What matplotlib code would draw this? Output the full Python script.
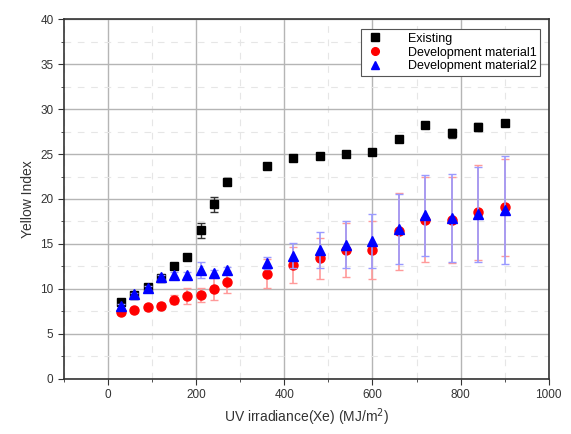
import matplotlib
matplotlib.use("Agg")
import matplotlib.pyplot as plt
from matplotlib.ticker import MultipleLocator

plt.rcParams['font.family'] = ['Liberation Sans', 'DejaVu Sans']

x = [30, 60, 90, 120, 150, 180, 210, 240, 270, 360, 420, 480, 540, 600, 660, 720, 780, 840, 900]
existing = [8.6, 9.3, 10.2, 11.2, 12.6, 13.55, 16.5, 19.4, 21.9, 23.7, 24.6, 24.8, 25.0, 25.2, 26.7, 28.2, 27.3, 28.0, 28.5]
existing_err = [0.3, 0.2, 0.2, 0.2, 0.3, 0.3, 0.8, 0.8, 0.4, 0.3, 0.3, 0.2, 0.2, 0.2, 0.2, 0.3, 0.5, 0.4, 0.3]
dev1 = [7.4, 7.7, 8.0, 8.1, 8.8, 9.2, 9.3, 10.0, 10.8, 11.7, 12.7, 13.4, 14.3, 14.3, 16.4, 17.7, 17.7, 18.5, 19.1]
dev1_err = [0.2, 0.2, 0.2, 0.3, 0.5, 0.9, 0.8, 1.2, 1.2, 1.6, 2.0, 2.3, 3.0, 3.2, 4.3, 4.7, 4.8, 5.3, 5.4]
dev2 = [8.1, 9.4, 10.1, 11.3, 11.6, 11.6, 12.1, 11.8, 12.1, 12.9, 13.7, 14.3, 14.9, 15.3, 16.7, 18.2, 17.9, 18.3, 18.8]
dev2_err = [0.2, 0.2, 0.2, 0.2, 0.3, 0.3, 0.9, 0.3, 0.3, 0.7, 1.4, 2.0, 2.6, 3.0, 3.9, 4.5, 4.85, 5.3, 6.0]
labels = ['Existing', 'Development material1', 'Development material2']

fig = plt.figure(figsize=(5.71, 4.34), dpi=100)
ax = fig.add_axes([0.112, 0.127, 0.849, 0.829])

e0 = ax.errorbar(x, existing, yerr=existing_err, fmt='s', color='black', ms=6,
                 ecolor='#333333', elinewidth=1, capsize=3, zorder=3)
e1 = ax.errorbar(x, dev1, yerr=dev1_err, fmt='o', color='red', ms=6.5,
                 ecolor='#ff9a9a', elinewidth=1.2, capsize=3, zorder=4)
e2 = ax.errorbar(x, dev2, yerr=dev2_err, fmt='^', color='blue', ms=7,
                 ecolor='#9a9aff', elinewidth=1.2, capsize=3, zorder=5)

ax.set_xlim(-100, 1000)
ax.set_ylim(0, 40)
ax.xaxis.set_major_locator(MultipleLocator(200))
ax.xaxis.set_minor_locator(MultipleLocator(100))
ax.yaxis.set_major_locator(MultipleLocator(5))
ax.yaxis.set_minor_locator(MultipleLocator(2.5))
ax.grid(True, which='major', color='#b5b5b5', linewidth=1.0, linestyle='-', zorder=0)
ax.grid(True, which='minor', color='#e6e6e6', linewidth=0.8, linestyle=(0, (6, 6)), zorder=0)
ax.set_axisbelow(True)
ax.tick_params(which='both', direction='out', labelsize=8.5, colors='#333333')
ax.tick_params(which='major', length=4)
ax.tick_params(which='minor', length=2.5)
for s in ax.spines.values():
    s.set_linewidth(1.2)
    s.set_color('#333333')

ax.set_xlabel('UV irradiance(Xe) (MJ/m$^2$)', fontsize=10, color='#333333')
ax.set_ylabel('Yellow Index', fontsize=10, color='#333333')

leg = ax.legend([e0.lines[0], e1.lines[0], e2.lines[0]], labels,
                loc='upper right', bbox_to_anchor=(0.995, 0.99),
                fontsize=9, frameon=True, fancybox=False, markerscale=0.85,
                edgecolor='#555555', framealpha=1, borderpad=0.3, labelspacing=0.15,
                handletextpad=1.8, handlelength=1.6)
leg.get_frame().set_linewidth(0.8)

fig.savefig('out.png', dpi=100)
